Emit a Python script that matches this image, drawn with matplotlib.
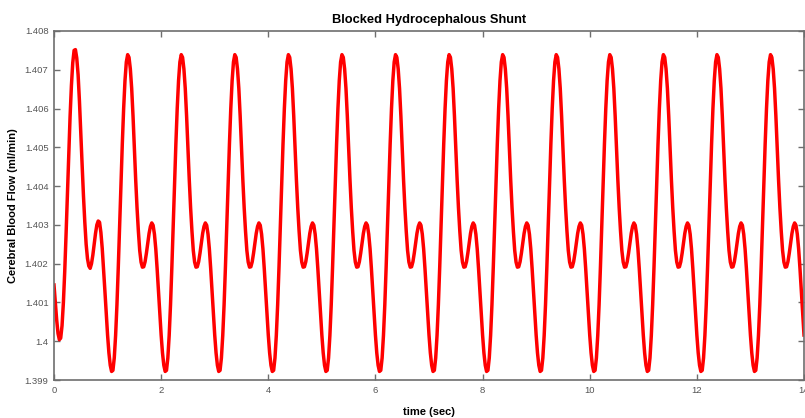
import matplotlib
matplotlib.use('Agg')
import matplotlib.pyplot as plt
import numpy as np

# sampling step of the trace (sec)
dt = 0.025
t_end = 14

# first cycle, t = 0 .. 0.975 (start-up transient)
first_cycle = [
    1.40145, 1.40100, 1.40055, 1.40020, 1.40004, 1.40008, 1.40040, 1.40099,
    1.40179, 1.40275, 1.40379, 1.40483, 1.40579, 1.40659, 1.40718, 1.40750,
    1.40752, 1.40730, 1.40687, 1.40619, 1.40540, 1.40455, 1.40375, 1.40307,
    1.40250, 1.40213, 1.40194, 1.40188, 1.40200, 1.40222, 1.40250, 1.40278,
    1.40300, 1.40310, 1.40307, 1.40281, 1.40240, 1.40187, 1.40130, 1.40071,
]

# steady-state cycle, phase 0 .. 0.975
steady_cycle = [
    1.40016, 1.39970, 1.39938, 1.39922, 1.39925, 1.39957, 1.40015, 1.40094,
    1.40191, 1.40297, 1.40406, 1.40509, 1.40600, 1.40672, 1.40720, 1.40739,
    1.40732, 1.40702, 1.40652, 1.40581, 1.40498, 1.40416, 1.40344, 1.40284,
    1.40234, 1.40204, 1.40191, 1.40192, 1.40205, 1.40227, 1.40253, 1.40278,
    1.40296, 1.40305, 1.40299, 1.40276, 1.40238, 1.40187, 1.40130, 1.40071,
]

flow = np.concatenate([first_cycle, np.tile(steady_cycle, t_end - 1), steady_cycle[:1]])
time = np.arange(len(flow)) * dt

x_ticks = [0, 2, 4, 6, 8, 10, 12, 14]
y_ticks = [1.399, 1.400, 1.401, 1.402, 1.403, 1.404, 1.405, 1.406, 1.407, 1.408]
y_labels = ['1.399', '1.4', '1.401', '1.402', '1.403', '1.404', '1.405', '1.406', '1.407', '1.408']

fig = plt.figure(figsize=(8.05, 4.18), dpi=100)
fig.patch.set_facecolor('white')
ax = fig.add_axes([54 / 805, 38 / 418, 750 / 805, 349 / 418])

ax.plot(time, flow, color='#ff0000', lw=2.5, solid_joinstyle='round')

ax.set_xlim(0, 14)
ax.set_ylim(1.399, 1.408)
ax.set_xticks(x_ticks)
ax.set_xticklabels([str(v) for v in x_ticks])
ax.set_yticks(y_ticks)
ax.set_yticklabels(y_labels)

for s in ax.spines.values():
    s.set_color('#6e6e6e')
    s.set_linewidth(1.2)

ax.tick_params(direction='in', length=4, width=1, color='#6e6e6e',
               top=True, right=True, labelsize=6.8, labelcolor='#555555', pad=4)
for lab in ax.get_xticklabels() + ax.get_yticklabels():
    lab.set_family(['Liberation Sans Narrow', 'Liberation Sans', 'DejaVu Sans'])

ax.set_title('Blocked Hydrocephalous Shunt', fontsize=9.3, weight='bold',
             family=['Liberation Sans', 'DejaVu Sans'], pad=6)
ax.set_xlabel('time (sec)', fontsize=8, weight='bold', labelpad=9,
              family=['Liberation Sans Narrow', 'Liberation Sans', 'DejaVu Sans'])
ax.set_ylabel('Cerebral Blood Flow (ml/min)', fontsize=8, weight='bold', labelpad=5,
              family=['Liberation Sans', 'DejaVu Sans'])

plt.savefig('out.png', dpi=100, facecolor='white')
